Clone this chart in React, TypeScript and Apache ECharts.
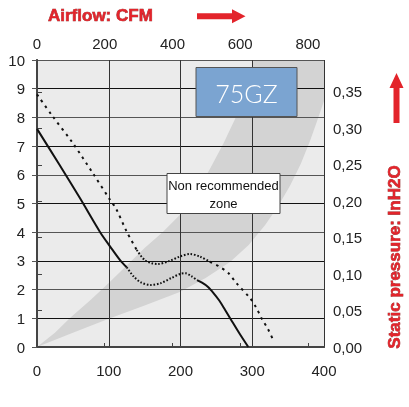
import React, { useEffect, useRef } from "react";
import * as echarts from "echarts";

// Axis ranges (bottom: l/s, top: CFM, left: mmH2O, right: inH2O)
const FLOW_MAX = 400;
const FLOW_INTERVAL = 100;
const CFM_MAX = 847.5;
const CFM_INTERVAL = 200;
const PRESSURE_MAX = 10;
const PRESSURE_INTERVAL = 1;
const INH2O_MAX = 0.3937;
const INH2O_INTERVAL = 0.05;

// Lower (solid) curve: solid / stall (dotted) / solid
const lowerSolidA: number[][] = [
  [0, 7.6], [30, 6.4], [60, 5.18], [88, 4.0], [102, 3.5], [116, 3.02], [125, 2.78],
];
const lowerStall: number[][] = [
  [125, 2.78], [135, 2.45], [145, 2.25], [158, 2.16], [172, 2.22], [187, 2.4],
  [200, 2.55], [207, 2.57], [215, 2.47], [223, 2.33],
];
const lowerSolidB: number[][] = [
  [223, 2.33], [230, 2.24], [238, 2.1], [246, 1.88], [254, 1.62], [262, 1.3],
  [270, 0.97], [282, 0.48], [294.5, 0],
];

// Upper (dashed) curve: dashed / stall (dotted) / dashed
const upperDashA: number[][] = [
  [0, 8.8], [20, 8.1], [50, 7.1], [78, 6.05], [102, 5.12], [110, 4.83], [125, 4.02], [139, 3.38],
];
const upperStall: number[][] = [
  [139, 3.38], [150, 3.03], [160, 2.92], [168, 2.89], [185, 3.0], [199, 3.15],
  [213, 3.24], [227, 3.15], [241, 2.97],
];
const upperDashB: number[][] = [
  [241, 2.97], [253, 2.82], [267, 2.57], [278, 2.22], [297, 1.7], [306, 1.35],
  [313, 1.0], [322, 0.62], [330, 0.2],
];

// Non recommended zone outline (data coordinates)
const zoneOutline: number[][] = [
  [0, 0], [25, 0.5], [46, 1.01], [75, 1.65], [100, 2.23], [125, 2.84], [150, 3.45],
  [175, 4.0], [199, 4.6], [220, 5.3], [241, 6.2], [260, 7.1], [276, 7.94], [291, 8.9], [302, 10],
  [400, 10],
  [400, 8.57], [390, 7.85], [381, 7.21], [368, 6.4], [353, 5.64], [336, 4.9], [318, 4.25],
  [295, 3.55], [269, 2.96], [235, 2.4], [199, 1.92], [150, 1.45], [100, 0.98], [50, 0.5], [0, 0],
];

const FONT = '"Liberation Sans", Arial, sans-serif';
const RED = "#e3242b";

export default function App() {
  const ref = useRef<HTMLDivElement>(null);

  useEffect(() => {
    if (!ref.current) return;
    const chart = echarts.init(ref.current, null, { renderer: "svg" });

    const line = (data: number[][], type: any) => ({
      type: "line",
      data,
      xAxisIndex: 0,
      yAxisIndex: 0,
      symbol: "none",
      showSymbol: false,
      smooth: 0.3,
      silent: true,
      z: 3,
      lineStyle: { color: "#111", width: 2, type },
    });

    const labelStyle = { fontSize: 15, color: "#222", fontFamily: FONT };

    chart.setOption({
      animation: false,
      grid: {
        left: 37,
        right: 85,
        top: 60,
        bottom: 60,
        show: true,
        backgroundColor: "#ebebeb",
        borderWidth: 0,
        z: -3,
      },
      xAxis: [
        {
          type: "value",
          position: "bottom",
          min: 0,
          max: FLOW_MAX,
          interval: FLOW_INTERVAL,
          axisLine: { show: true, lineStyle: { color: "#444", width: 2 } },
          axisTick: { show: false },
          axisLabel: { ...labelStyle, margin: 16 },
          splitLine: { show: true, lineStyle: { color: "#333", width: 1 } },
        },
        {
          type: "value",
          position: "top",
          min: 0,
          max: CFM_MAX,
          interval: CFM_INTERVAL,
          axisLine: { show: true, lineStyle: { color: "#444", width: 2 } },
          axisTick: { show: true, length: 4, lineStyle: { color: "#444" } },
          axisLabel: { ...labelStyle, margin: 9, showMaxLabel: false },
          splitLine: { show: false },
        },
      ],
      yAxis: [
        {
          type: "value",
          position: "left",
          min: 0,
          max: PRESSURE_MAX,
          interval: PRESSURE_INTERVAL,
          axisLine: { show: true, lineStyle: { color: "#777", width: 2 } },
          axisTick: { show: true, length: 5, lineStyle: { color: "#555" } },
          axisLabel: { ...labelStyle, margin: 12 },
          splitLine: { show: true, lineStyle: { color: ["#555555", "#111111"], width: 1 } },
        },
        {
          type: "value",
          position: "right",
          min: 0,
          max: INH2O_MAX,
          interval: INH2O_INTERVAL,
          axisLine: { show: true, lineStyle: { color: "#444", width: 2 } },
          axisTick: { show: true, length: 5, lineStyle: { color: "#444" } },
          axisLabel: {
            ...labelStyle,
            margin: 9,
            showMaxLabel: false,
            formatter: (v: number) => v.toFixed(2).replace(".", ","),
          },
          splitLine: { show: false },
        },
      ],
      series: [
        {
          type: "custom",
          xAxisIndex: 0,
          yAxisIndex: 0,
          z: -1,
          silent: true,
          clip: true,
          data: zoneOutline,
          renderItem: (params: any, api: any) => {
            if (params.dataIndex !== 0) return null;
            return {
              type: "polygon",
              shape: { points: zoneOutline.map((p) => api.coord(p)) },
              style: { fill: "#d3d3d3" },
            };
          },
        },
        line(lowerSolidA, "solid"),
        line(lowerStall, [1.6, 1.8]),
        line(lowerSolidB, "solid"),
        line(upperDashA, [2.5, 4.5]),
        line(upperStall, [1.6, 1.8]),
        line(upperDashB, [2.5, 4.5]),
      ],
      graphic: [
        {
          type: "text",
          x: 48,
          y: 15,
          z: 10,
          style: {
            text: "Airflow: CFM",
            fill: RED,
            stroke: "#8b1c1c",
            lineWidth: 0.6,
            fontSize: 17,
            fontWeight: "bold",
            fontFamily: FONT,
            verticalAlign: "middle",
          },
        },
        {
          type: "polygon",
          z: 10,
          shape: {
            points: [
              [197, 13.3], [232, 13.3], [232, 9.3], [245.5, 16.3], [232, 23.3], [232, 19.3], [197, 19.3],
            ],
          },
          style: { fill: RED },
        },
        {
          type: "polygon",
          z: 10,
          shape: {
            points: [
              [393.5, 123], [393.5, 88], [389.5, 88], [396.5, 73], [403.5, 88], [399.5, 88], [399.5, 123],
            ],
          },
          style: { fill: RED },
        },
        {
          type: "text",
          x: 394,
          y: 257,
          rotation: Math.PI / 2,
          z: 10,
          style: {
            text: "Static pressure: InH2O",
            fill: RED,
            stroke: "#8b1c1c",
            lineWidth: 0.6,
            fontSize: 17,
            fontWeight: "bold",
            fontFamily: FONT,
            align: "center",
            verticalAlign: "middle",
          },
        },
        {
          type: "rect",
          z: 10,
          shape: { x: 196, y: 67.5, width: 101, height: 49 },
          style: { fill: "#7ba4d1", stroke: "#555", lineWidth: 1 },
        },
        {
          type: "text",
          x: 246.5,
          y: 92.5,
          z: 11,
          style: {
            text: "75GZ",
            fill: "#ffffff",
            fontSize: 25,
            fontWeight: 300,
            fontFamily: '"Lato", "Open Sans", sans-serif',
            align: "center",
            verticalAlign: "middle",
          },
        },
        {
          type: "rect",
          z: 10,
          shape: { x: 167, y: 173.5, width: 113, height: 40 },
          style: { fill: "#ffffff", stroke: "#444", lineWidth: 1 },
        },
        {
          type: "text",
          x: 223.5,
          y: 194,
          z: 11,
          style: {
            text: "Non recommended\nzone",
            fill: "#111",
            fontSize: 13,
            lineHeight: 18,
            fontFamily: FONT,
            align: "center",
            verticalAlign: "middle",
          },
        },
      ],
    });

    return () => chart.dispose();
  }, []);

  return (
    <div
      ref={ref}
      style={{ position: "fixed", left: 0, top: 0, width: 409, height: 407 }}
    />
  );
}
